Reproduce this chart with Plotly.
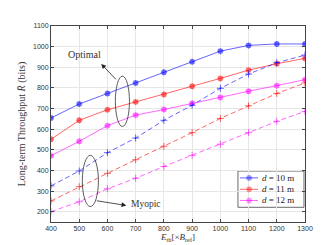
import plotly.graph_objects as go

energy = [400, 500, 600, 700, 800, 900, 1000, 1100, 1200, 1300]
opt_d10 = [654, 722, 773, 824, 876, 927, 978, 1006, 1013, 1013]
opt_d11 = [551, 643, 694, 732, 768, 808, 846, 886, 917, 943]
opt_d12 = [471, 541, 617, 668, 695, 725, 754, 784, 811, 840]
myo_d10 = [325, 397, 486, 557, 643, 716, 798, 867, 922, 959]
myo_d11 = [252, 321, 386, 452, 517, 583, 652, 713, 773, 824]
myo_d12 = [200, 248, 311, 362, 419, 473, 527, 583, 638, 686]
labels = ["<i>d</i> = 10 m", "<i>d</i> = 11 m", "<i>d</i> = 12 m"]
line_cols = ["rgba(0,0,255,0.6)", "rgba(255,0,0,0.6)", "rgba(255,0,255,0.6)"]
mark_cols = ["rgb(0,0,255)", "rgb(255,0,0)", "rgb(255,0,255)"]

serif = "Liberation Serif, DejaVu Serif, serif"
fig = go.Figure()
for ys, name, lc, mc in zip([opt_d10, opt_d11, opt_d12], labels, line_cols, mark_cols):
    fig.add_trace(go.Scatter(x=energy, y=ys, mode="lines+markers", name=name, showlegend=False,
                             line=dict(color=lc, width=1),
                             marker=dict(symbol="asterisk-open", size=5,
                                         line=dict(color=mc, width=1.6))))
for ys, lc, mc in zip([myo_d10, myo_d11, myo_d12], line_cols, mark_cols):
    fig.add_trace(go.Scatter(x=energy, y=ys, mode="lines+markers", showlegend=False,
                             line=dict(color=lc, width=1, dash="5px,3px"),
                             marker=dict(symbol="cross-thin-open", size=5,
                                         line=dict(color=mc, width=1))))

# custom compact legend (box + keys + labels)
fig.add_shape(type="rect", xref="paper", yref="paper", x0=0.736, x1=0.996, y0=0.075, y1=0.26,
              fillcolor="white", line=dict(color="#444", width=0.8), layer="between")
rows = [0.225, 0.167, 0.11]
for row, name, lc, mc in zip(rows, labels, line_cols, mark_cols):
    fig.add_trace(go.Scatter(x=[0.744, 0.78, 0.815], y=[row, row, row], xaxis="x2", yaxis="y2",
                             mode="lines+markers", showlegend=False, hoverinfo="skip",
                             line=dict(color=lc, width=1),
                             marker=dict(symbol="asterisk-open", size=[0, 5, 0],
                                         line=dict(color=mc, width=1.6))))
    fig.add_annotation(x=0.823, y=row, xref="paper", yref="paper", text=name, showarrow=False,
                       xanchor="left", yanchor="middle",
                       font=dict(family=serif, size=9, color="#222"))

# ellipses
fig.add_shape(type="circle", xref="x", yref="y", x0=628, x1=678, y0=613, y1=857,
              line=dict(color="#333", width=0.8))
fig.add_shape(type="circle", xref="x", yref="y", x0=511, x1=568, y0=225, y1=473,
              line=dict(color="#333", width=0.8))

fig.add_annotation(x=578, y=916, ax=635, ay=834, xref="x", yref="y", axref="x", ayref="y",
                   text="", showarrow=True, arrowhead=2, arrowsize=1.2, arrowwidth=0.8,
                   arrowcolor="#222")
fig.add_annotation(x=518, y=960, xref="x", yref="y", text="Optimal", showarrow=False,
                   font=dict(family=serif, size=10, color="#333"))
fig.add_annotation(x=667, y=230, ax=557, ay=254, xref="x", yref="y", axref="x", ayref="y",
                   text="", showarrow=True, arrowhead=2, arrowsize=1.2, arrowwidth=0.8,
                   arrowcolor="#222")
fig.add_annotation(x=735, y=235, xref="x", yref="y", text="Myopic", showarrow=False,
                   font=dict(family=serif, size=9.5, color="#333"))

axis_common = dict(showgrid=True, gridcolor="#e6e6e6", gridwidth=1, showline=True,
                   linecolor="#444", linewidth=1, mirror="ticks", ticks="inside",
                   ticklen=3, tickcolor="#444", zeroline=False,
                   tickfont=dict(family="Liberation Sans, Arial, sans-serif", size=7, color="#333"))

fig.update_layout(
    width=327, height=245,
    margin=dict(l=43, r=30, t=18, b=27),
    paper_bgcolor="white", plot_bgcolor="white",
    xaxis=dict(range=[400, 1300], tickvals=energy, **axis_common,
               title=dict(text="<i>E</i><sub>th</sub>[×<i>B</i><sub>ref</sub>]",
                          font=dict(family=serif, size=9, color="#333"), standoff=2)),
    yaxis=dict(range=[150, 1100], tickvals=list(range(200, 1101, 100)), **axis_common,
               title=dict(text="Long-term Throughput <i>R̄</i> (bits)",
                          font=dict(family=serif, size=10, color="#333"), standoff=5)),
    xaxis2=dict(overlaying="x", range=[0, 1], visible=False),
    yaxis2=dict(overlaying="y", range=[0, 1], visible=False),
    showlegend=False,
)

fig.write_html("out.html")
